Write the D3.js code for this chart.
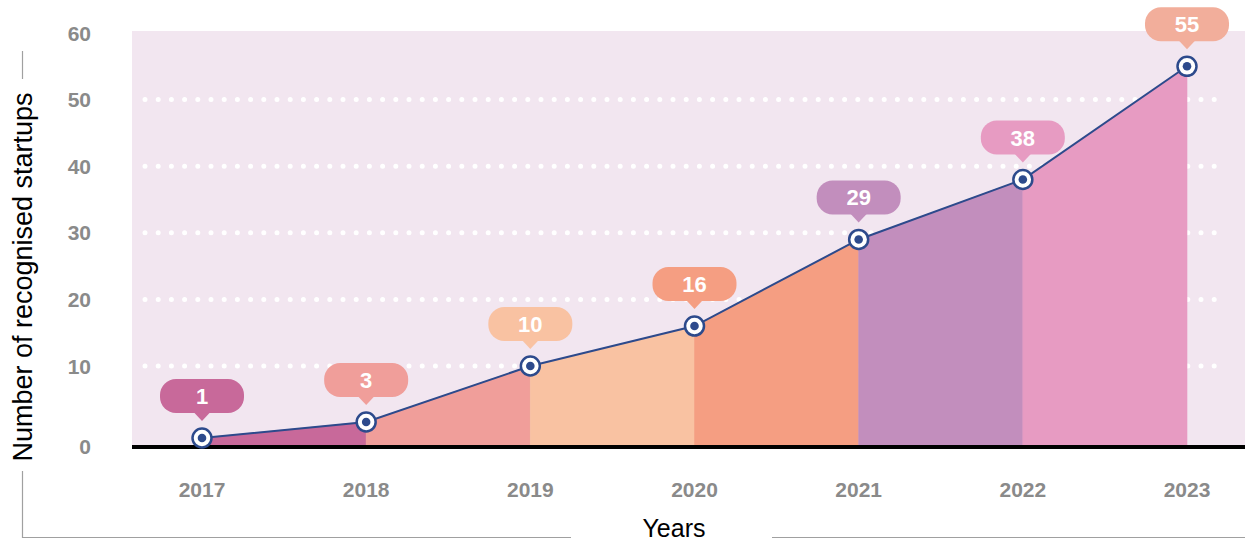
<!DOCTYPE html>
<html>
<head>
<meta charset="utf-8">
<script src="https://cdn.jsdelivr.net/npm/d3@7"></script>
<style>
  html, body { margin: 0; padding: 0; background: #ffffff; }
  svg { display: block; font-family: "Liberation Sans", Arial, sans-serif; }
</style>
</head>
<body>
<svg id="chart" width="1245" height="544"></svg>
<script>
// Recognised startups per year
const years = ["2017", "2018", "2019", "2020", "2021", "2022", "2023"];
const startups = [1, 3, 10, 16, 29, 38, 55];
const yTicks = [0, 10, 20, 30, 40, 50, 60];
const gridValues = [10, 20, 30, 40, 50];
// Fill of the band between one year and the next
const segmentColors = ["#c8699a", "#f09e9a", "#f9c2a2", "#f59e82", "#c28ebd", "#e79bc2"];
// Fill of each value callout
const calloutColors = ["#c8699a", "#f09e9a", "#f9c2a2", "#f59e82", "#c28ebd", "#e79bc2", "#f2ae9b"];

const svg = d3.select("#chart");
const W = 1245;
const navy = "#2d4a8c";
const tickGrey = "#8a8a8a";
const frameGrey = "#a0a0a0";

const x = d3.scalePoint().domain(years).range([202, 1187]);
// The first decade is stretched a little relative to the rest of the axis
const y = d3.scaleLinear().domain([0, 10, 60]).range([446, 366, 33]);

const plotLeft = 132, plotTop = 31;
const base = y(0);

// Plot background
svg.append("rect")
  .attr("x", plotLeft).attr("y", plotTop)
  .attr("width", W - plotLeft).attr("height", base - plotTop)
  .attr("fill", "#f2e6f0");

// Dotted gridlines
svg.append("g").selectAll("line")
  .data(gridValues)
  .join("line")
  .attr("x1", 145).attr("x2", 1220)
  .attr("y1", d => y(d)).attr("y2", d => y(d))
  .attr("stroke", "#ffffff")
  .attr("stroke-width", 5)
  .attr("stroke-linecap", "round")
  .attr("stroke-dasharray", "0 13.2");

// Coloured bands under the line, one per year interval
const pts = years.map((yr, i) => ({ yr, v: startups[i] }));
const area = d3.area()
  .x(d => x(d.yr))
  .y0(base)
  .y1(d => y(d.v));
svg.append("g").selectAll("path")
  .data(d3.pairs(pts))
  .join("path")
  .attr("d", d => area(d))
  .attr("fill", (d, i) => segmentColors[i])
  .attr("stroke", (d, i) => segmentColors[i])
  .attr("stroke-width", 0.6);

// Baseline
svg.append("line")
  .attr("x1", plotLeft).attr("x2", W)
  .attr("y1", base + 1).attr("y2", base + 1)
  .attr("stroke", "#000000")
  .attr("stroke-width", 4);

// Trend line
svg.append("path")
  .datum(pts)
  .attr("d", d3.line().x(d => x(d.yr)).y(d => y(d.v)))
  .attr("fill", "none")
  .attr("stroke", navy)
  .attr("stroke-width", 2);

// Markers
const markers = svg.append("g").selectAll("g")
  .data(pts)
  .join("g")
  .attr("transform", d => `translate(${x(d.yr)},${y(d.v)})`);
markers.append("circle")
  .attr("r", 9.5)
  .attr("fill", "#ffffff")
  .attr("stroke", navy)
  .attr("stroke-width", 2.5);
markers.append("circle")
  .attr("r", 4.3)
  .attr("fill", navy);

// Value callouts
const cw = 84, ch = 34, cr = 16, gap = 25, tip = 17;
const callouts = svg.append("g").selectAll("g")
  .data(pts)
  .join("g")
  .attr("transform", d => `translate(${x(d.yr)},${y(d.v)})`);
callouts.append("rect")
  .attr("x", -cw / 2).attr("y", -gap - ch)
  .attr("width", cw).attr("height", ch)
  .attr("rx", cr).attr("ry", cr)
  .attr("fill", (d, i) => calloutColors[i]);
callouts.append("path")
  .attr("d", `M-8,${-gap - 0.5} L8,${-gap - 0.5} L0,${-tip} Z`)
  .attr("fill", (d, i) => calloutColors[i]);
callouts.append("text")
  .attr("x", 0).attr("y", -gap - 9)
  .attr("text-anchor", "middle")
  .attr("font-size", 22)
  .attr("font-weight", "bold")
  .attr("fill", "#ffffff")
  .text(d => d.v);

// Y tick labels
svg.append("g").selectAll("text")
  .data(yTicks)
  .join("text")
  .attr("x", 91)
  .attr("y", d => y(d))
  .attr("dy", "0.36em")
  .attr("text-anchor", "end")
  .attr("font-size", 21)
  .attr("font-weight", "bold")
  .attr("fill", tickGrey)
  .text(d => d);

// X tick labels
svg.append("g").selectAll("text")
  .data(years)
  .join("text")
  .attr("x", d => x(d))
  .attr("y", 489)
  .attr("dy", "0.36em")
  .attr("text-anchor", "middle")
  .attr("font-size", 21)
  .attr("font-weight", "bold")
  .attr("fill", tickGrey)
  .text(d => d);

// Axis titles
svg.append("text")
  .attr("transform", "translate(32,277) rotate(-90)")
  .attr("text-anchor", "middle")
  .attr("font-size", 27)
  .attr("fill", "#000000")
  .text("Number of recognised startups");

svg.append("text")
  .attr("x", 674).attr("y", 537)
  .attr("text-anchor", "middle")
  .attr("font-size", 25)
  .attr("fill", "#000000")
  .text("Years");

// Frame lines around the axis titles
const frame = svg.append("g")
  .attr("stroke", frameGrey)
  .attr("stroke-width", 1.2)
  .attr("fill", "none");
frame.append("line").attr("x1", 22.5).attr("x2", 22.5).attr("y1", 51).attr("y2", 79);
frame.append("polyline").attr("points", "22.5,471 22.5,537.5 571,537.5");
frame.append("line").attr("x1", 772).attr("x2", W).attr("y1", 537.5).attr("y2", 537.5);
</script>
</body>
</html>
